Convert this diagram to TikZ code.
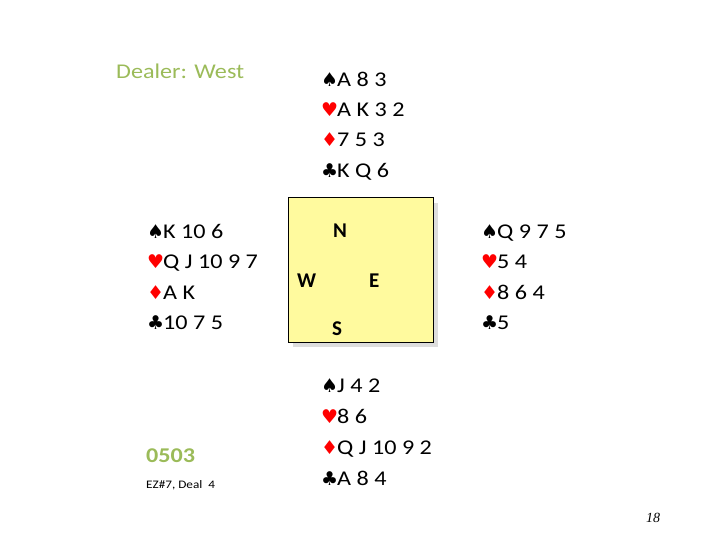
\documentclass[tikz,border=0pt]{standalone}
\usepackage{fontspec}
\setmainfont[FakeStretch=1.15]{Carlito}
\newfontfamily\compassfont{Carlito}
\newfontfamily\suitfont{DejaVu Sans}
\newfontfamily\pagefont{Liberation Serif}
\definecolor{dealgreen}{HTML}{9BBB59}
\definecolor{boxfill}{HTML}{FFFA9E}
\definecolor{shadowgray}{HTML}{DDDDDD}
\definecolor{suitred}{HTML}{FF0000}
\tikzset{
  cardline/.style={anchor=base west, inner sep=0pt, font=\fontsize{21}{24}\selectfont},
  suitsym/.style={anchor=base west, inner sep=0pt, font=\suitfont\fontsize{19}{20}\selectfont},
  compass/.style={anchor=base west, inner sep=0pt, font=\compassfont\fontsize{21}{24}\selectfont\bfseries},
  greentext/.style={anchor=base west, inner sep=0pt, text=dealgreen},
}
\begin{document}
\begin{tikzpicture}[x=1pt,y=-1pt]
\useasboundingbox (0,0) rectangle (720,540);
% table box
\fill[shadowgray] (293,203) rectangle (438,347);
\filldraw[fill=boxfill, draw=black, line width=1pt] (288,198) rectangle (433,342);
\node[compass] (cN) at (333,237) {N};
\node[compass] (cW) at (297,287) {W};
\node[compass] (cE) at (369,287) {E};
\node[compass] (cS) at (332,335) {S};
% dealer
\node[greentext, font=\fontsize{21}{24}\selectfont] (dealer) at (116,79) {Dealer: West};
% North
\node[suitsym] (ns) at (321,87) {♠};
\node[cardline] (nst) at (337,87) {A 8 3};
\node[suitsym, text=suitred] (nh) at (321,117) {♥};
\node[cardline] (nht) at (337,117) {A K 3 2};
\node[suitsym, text=suitred] (nd) at (321,147) {♦};
\node[cardline] (ndt) at (337,147) {7 5 3};
\node[suitsym] (nc) at (321,178) {♣};
\node[cardline] (nct) at (337,178) {K Q 6};
% West
\node[suitsym] (ws) at (147,238) {♠};
\node[cardline] (wst) at (163,238) {K 10 6};
\node[suitsym, text=suitred] (wh) at (147,268) {♥};
\node[cardline] (wht) at (163,268) {Q J 10 9 7};
\node[suitsym, text=suitred] (wd) at (147,299) {♦};
\node[cardline] (wdt) at (163,299) {A K};
\node[suitsym] (wc) at (147,329) {♣};
\node[cardline] (wct) at (163,329) {10 7 5};
% East
\node[suitsym] (es) at (481,238) {♠};
\node[cardline] (est) at (497,238) {Q 9 7 5};
\node[suitsym, text=suitred] (eh) at (481,268) {♥};
\node[cardline] (eht) at (497,268) {5 4};
\node[suitsym, text=suitred] (ed) at (481,299) {♦};
\node[cardline] (edt) at (497,299) {8 6 4};
\node[suitsym] (ec) at (481,329) {♣};
\node[cardline] (ect) at (497,329) {5};
% South
\node[suitsym] (ss) at (321,392) {♠};
\node[cardline] (sst) at (337,392) {J 4 2};
\node[suitsym, text=suitred] (sh) at (321,423) {♥};
\node[cardline] (sht) at (337,423) {8 6};
\node[suitsym, text=suitred] (sd) at (321,454) {♦};
\node[cardline] (sdt) at (337,454) {Q J 10 9 2};
\node[suitsym] (sc) at (321,485) {♣};
\node[cardline] (sct) at (337,485) {A 8 4};
% labels
\node[greentext, font=\fontsize{21}{24}\selectfont\bfseries] (code) at (146,462) {0503};
\node[anchor=base west, inner sep=0pt, font=\fontsize{11.5}{13}\selectfont] (src) at (146,488) {EZ\#7, Deal~~4};
\node[anchor=base west, inner sep=0pt, font=\pagefont\itshape\fontsize{14}{16}\selectfont] (pg) at (646,522) {18};
\end{tikzpicture}
\end{document}
